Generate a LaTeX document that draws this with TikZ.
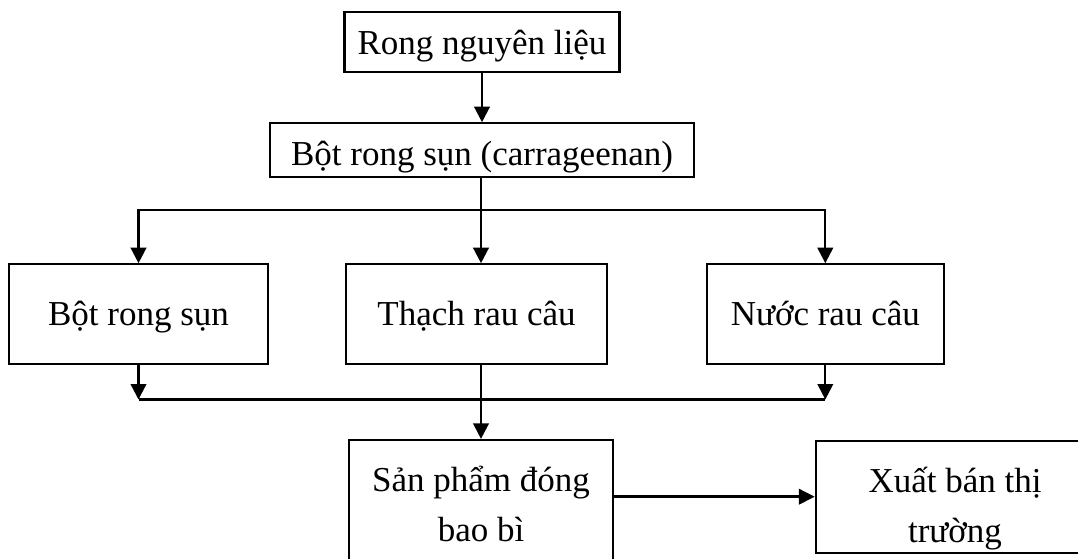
\documentclass[tikz,border=0pt]{standalone}
\usepackage{fontspec}
\setmainfont{Liberation Serif}
\usetikzlibrary{arrows.meta}
\begin{document}
\begin{tikzpicture}[x=1pt,y=-1pt,
  box/.style={draw, line width=2.2pt, inner sep=0pt, font=\fontsize{35}{50.7}\selectfont, align=center, text depth=8.75pt},
  arr/.style={line width=2.3pt, -{Triangle[length=15.5pt,width=15.5pt]}},
  ln/.style={line width=2.3pt},
  thickarr/.style={line width=3.5pt, -{Triangle[length=16pt,width=15pt]}}]
\useasboundingbox (0,0) rectangle (1078,558);
\clip (0,0) rectangle (1078,558);
\fill[white] (0,0) rectangle (1078,558);

\node[box, minimum width=275pt, minimum height=59.4pt, text height=33.35pt] (n1) at (482,42) {Rong nguyên liệu};
\node[box, minimum width=424pt, minimum height=53.4pt, text height=40.15pt] (n2) at (482,150) {Bột rong sụn (carrageenan)};
\node[box, minimum width=258.4pt, minimum height=100pt, text height=30.15pt] (A) at (138.5,314.3) {Bột rong sụn};
\node[box, minimum width=261.6pt, minimum height=100pt, text height=30.15pt] (B) at (476.5,314.3) {Thạch rau câu};
\node[box, minimum width=237.3pt, minimum height=100pt, text height=30.15pt] (C) at (825.3,314.3) {Nước rau câu};
\node[box, minimum width=263.4pt, minimum height=160pt, text height=52.15pt] (D) at (481,520) {Sản phẩm đóng\\bao bì};
\node[box, minimum width=278pt, minimum height=112pt, text height=100.75pt] (E) at (955,496.7) {Xuất bán thị\\trường};

\coordinate (br) at (481,210);
\coordinate (jn) at (481,399.5);

\draw[arr] (n1) -- (n2);
\draw[ln] (n2.south -| br) -- (br);
\draw[arr] (br) -| (A.north);
\draw[arr] (br) -| (C.north);
\draw[arr] (br) -- (B.north -| br);

\draw[arr] (A.south) -- (A.south |- jn);
\draw[arr] (C.south) -- (C.south |- jn);
\draw[ln] (A.south |- jn) -- (C.south |- jn);
\draw[arr] (B.south -| jn) -- (D.north -| jn);

\draw[thickarr] (D.east |- E.west) -- (E.west);
\end{tikzpicture}
\end{document}
